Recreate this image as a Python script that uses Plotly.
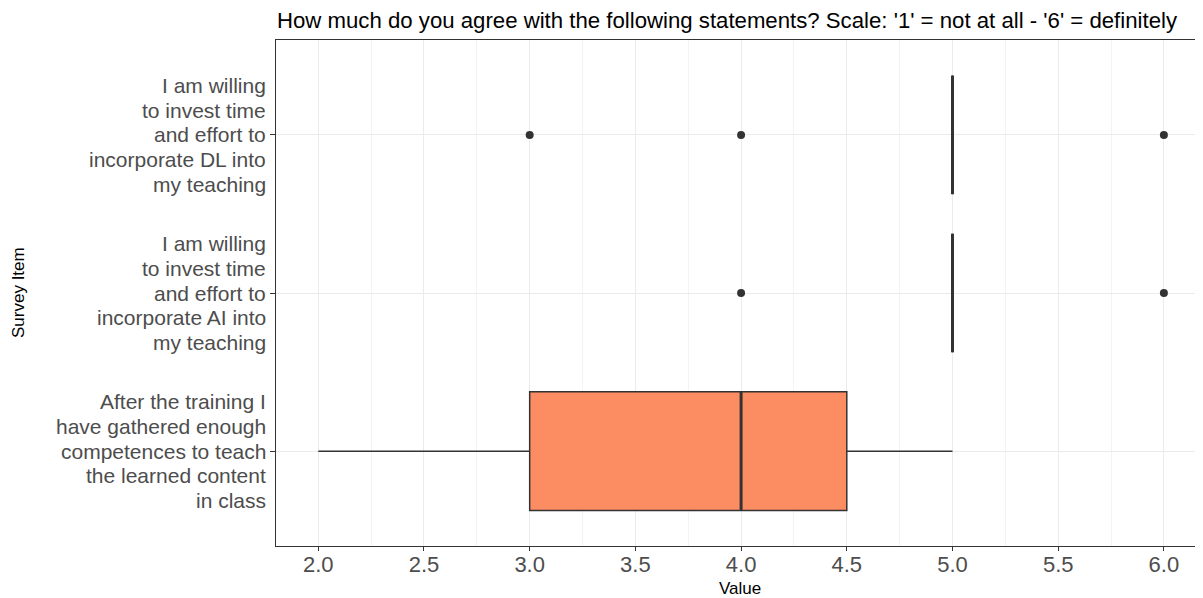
import plotly.graph_objects as go

# ---- data ----
categories = [
    "After the training I<br>have gathered enough<br>competences to teach<br>the learned content<br>in class",
    "I am willing<br>to invest time<br>and effort to<br>incorporate AI into<br>my teaching",
    "I am willing<br>to invest time<br>and effort to<br>incorporate DL into<br>my teaching",
]
positions = [1, 2, 3]
lower_fence = [2.0, 5.0, 5.0]
q1 = [3.0, 5.0, 5.0]
median = [4.0, 5.0, 5.0]
q3 = [4.5, 5.0, 5.0]
upper_fence = [5.0, 5.0, 5.0]
outliers = [[], [4.0, 6.0], [3.0, 4.0, 6.0]]
x_ticks = [2.0, 2.5, 3.0, 3.5, 4.0, 4.5, 5.0, 5.5, 6.0]
x_tick_labels = ["2.0", "2.5", "3.0", "3.5", "4.0", "4.5", "5.0", "5.5", "6.0"]

FILL = "#FC8D62"
LINE = "#333333"
BOX_W = 0.75
LABEL_SIZE = 21
LINE_GAP = 24.7

# page has an 8px body margin; figure sized so it ends at the window edge
W, H = 1195, 590
ML, MT, MB, MR = 268, 32, 52, 0
PW, PH = W - ML - MR, H - MT - MB

fig = go.Figure()

for i, p in enumerate(positions):
    fig.add_trace(go.Box(
        orientation="h",
        y=[p],
        q1=[q1[i]], median=[median[i]], q3=[q3[i]],
        lowerfence=[lower_fence[i]], upperfence=[upper_fence[i]],
        width=BOX_W,
        fillcolor=FILL,
        line=dict(color=LINE, width=1.5),
        whiskerwidth=0,
        boxpoints=False,
        showlegend=False,
        hoverinfo="skip",
    ))
    fig.add_trace(go.Scatter(
        x=[median[i], median[i]],
        y=[p - BOX_W / 2, p + BOX_W / 2],
        mode="lines",
        line=dict(color=LINE, width=3),
        showlegend=False,
        hoverinfo="skip",
    ))
    if outliers[i]:
        fig.add_trace(go.Scatter(
            x=outliers[i],
            y=[p] * len(outliers[i]),
            mode="markers",
            marker=dict(color=LINE, size=8),
            showlegend=False,
            hoverinfo="skip",
        ))

annotations = []
for p, label in zip(positions, categories):
    lines = label.split("<br>")
    n = len(lines)
    for k, ln in enumerate(lines):
        offset = ((n - 1) / 2 - k) * LINE_GAP
        annotations.append(dict(
            text=ln, xref="paper", yref="y", x=0, y=p,
            xanchor="right", yanchor="middle", xshift=-8, yshift=offset,
            showarrow=False, font=dict(size=LABEL_SIZE, color="#4D4D4D"),
        ))

annotations += [
    dict(text="Value", xref="paper", yref="paper", x=0.5, y=-42 / PH,
         xanchor="center", yanchor="middle", showarrow=False,
         font=dict(size=17, color="black")),
    dict(text="Survey Item", xref="paper", yref="paper", x=(10 - ML) / PW, y=0.5,
         xanchor="center", yanchor="middle", textangle=-90, showarrow=False,
         font=dict(size=17, color="black")),
]

fig.update_layout(
    width=W, height=H,
    margin=dict(l=ML, r=MR, t=MT, b=MB, autoexpand=False),
    paper_bgcolor="white",
    plot_bgcolor="white",
    font=dict(family="Liberation Sans, Arial, sans-serif"),
    title=dict(
        text="How much do you agree with the following statements? Scale: '1' = not at all - '6' = definitely",
        x=269 / W, xanchor="left", xref="container",
        y=1 - 12 / H, yanchor="middle", yref="container",
        font=dict(size=22.2, color="black"),
    ),
    xaxis=dict(
        range=[1.8, 6.185],
        tickvals=x_ticks, ticktext=x_tick_labels,
        showgrid=True, gridcolor="#EBEBEB", gridwidth=1.3,
        minor=dict(dtick=0.5, tick0=2.25, showgrid=True, gridcolor="#F3F3F3", gridwidth=1, ticks=""),
        ticks="outside", ticklen=4, tickcolor="#333333", tickwidth=1,
        ticklabelstandoff=-5,
        tickfont=dict(size=22, color="#4D4D4D"),
        showline=True, linecolor="#333333", linewidth=1, mirror=True,
        zeroline=False,
    ),
    yaxis=dict(
        range=[0.4, 3.6],
        tickvals=positions, ticktext=[""] * len(positions),
        showgrid=True, gridcolor="#EBEBEB", gridwidth=1.3,
        ticks="outside", ticklen=5, tickcolor="#333333", tickwidth=1,
        showline=True, linecolor="#333333", linewidth=1, mirror=True,
        zeroline=False,
    ),
    annotations=annotations,
)

fig.write_html("out.html")
